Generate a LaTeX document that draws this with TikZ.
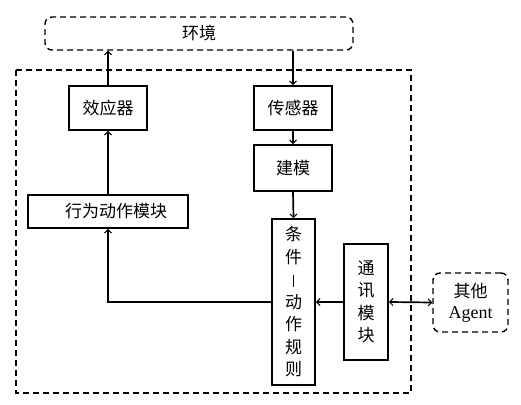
\documentclass[tikz,border=0pt]{standalone}
\usepackage{fontspec}
\setmainfont{Liberation Serif}
\newfontfamily\cjk{Noto Sans CJK SC}
\usetikzlibrary{arrows.meta}
\tikzset{
  box/.style={draw, line width=1.7pt, inner sep=0pt, font=\cjk\fontsize{17}{22.5}\selectfont, align=center},
  dbox/.style={draw, line width=1.4pt, dash pattern=on 6pt off 4pt, rounded corners=7pt, inner sep=0pt, align=center},
  arr/.style={line width=1.7pt, -{Straight Barb[length=3.5pt,width=7pt,line width=1pt]}},
}
\begin{document}
\begin{tikzpicture}[x=1pt,y=1pt]
\useasboundingbox (0,0) rectangle (521,404);
\draw[line width=1.4pt, dash pattern=on 6pt off 4pt] (16,334) rectangle (411,11);
\node[dbox, minimum width=308pt, minimum height=33pt, font=\cjk\fontsize{17}{18}\selectfont] (env) at (199,370.5) {环境};
\node[box, minimum width=78pt, minimum height=44pt] (eff) at (108,296) {效应器};
\node[box, minimum width=78pt, minimum height=44pt] (sen) at (293,296) {传感器};
\node[box, minimum width=78pt, minimum height=46pt] (mod) at (293,236) {建模};
\node[box, minimum width=160pt, minimum height=33pt] (act) at (108,192.5) {\hspace*{16pt}行为动作模块};
\node[box, minimum width=43pt, minimum height=166pt] (rule) at (293.5,102) {条\\件\\\rule[-1pt]{1pt}{12pt}\\动\\作\\规\\则};
\node[box, minimum width=44pt, minimum height=116pt] (com) at (366,102) {通\\讯\\模\\块};
\node[dbox, minimum width=75pt, minimum height=59pt, font=\fontsize{18}{21}\selectfont] (oth) at (470.5,101.5) {{\cjk\fontsize{17}{21}\selectfont 其他}\\Agent};
\draw[arr] (eff.north) -- (eff.north |- env.south);
\draw[arr] (sen.north |- env.south) -- (sen.north);
\draw[arr] (sen.south) -- (mod.north);
\draw[arr] (mod.south) -- (rule.north);
\draw[arr] (act.north) -- (eff.south);
\draw[arr] (rule.west) -- (rule.west -| act.south) -- (act.south);
\draw[arr] (com.west) -- (rule.east);
\draw[line width=1.7pt, {Straight Barb[length=3.5pt,width=7pt,line width=1pt]}-{Straight Barb[length=3.5pt,width=7pt,line width=1pt]}] (com.east) -- (oth.west);
\end{tikzpicture}
\end{document}
